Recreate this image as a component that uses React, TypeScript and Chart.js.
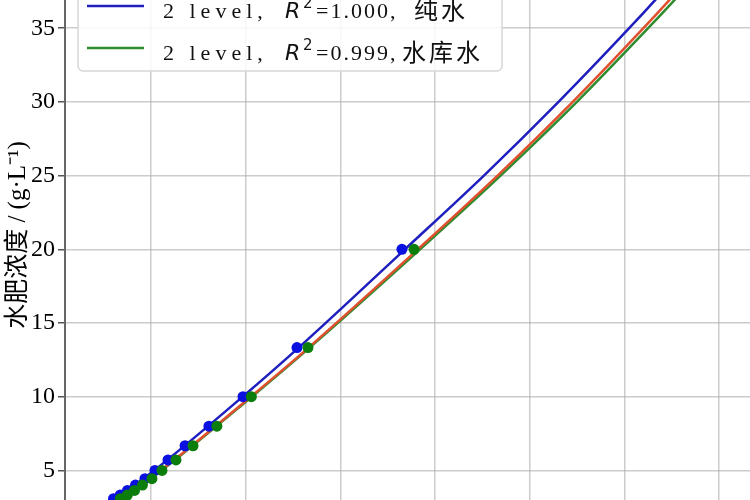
import { useEffect, useRef } from "react";
import { Chart, registerables } from "chart.js";

Chart.register(...registerables);

// measured points: concentration (g/L) against the x reading of each water type
const concentration = [20, 13.33, 10, 8, 6.67, 5.71, 5, 4.44, 4, 3.64, 3.33, 3.08];
const pureWaterX = [18.25, 12.71, 9.86, 8.06, 6.8, 5.9, 5.21, 4.68, 4.18, 3.76, 3.38, 3.02];
const reservoirX = [18.89, 13.29, 10.3, 8.48, 7.22, 6.32, 5.58, 5.05, 4.55, 4.13, 3.75, 3.38];

// fitted curves at these concentration levels
const fitLevels = [3, 5, 10, 13.33, 20, 25, 30, 35, 36.91, 39];
const pureFitX = [3.05, 5.17, 9.84, 12.8, 18.41, 22.58, 26.52, 30.25, 31.62, 33.06];
const tapFitX = [3.37, 5.52, 10.27, 13.32, 19.09, 23.3, 27.27, 31.0, 32.37, 33.82];
const reservoirFitX = [3.4, 5.57, 10.33, 13.38, 19.21, 23.46, 27.49, 31.25, 32.64, 34.12];

const yTicks = [5, 10, 15, 20, 25, 30, 35];
const xGrid = [5, 10, 15, 20, 25, 30, 35];

const legendRows = [
  { color: "#1f1fbf", r2: "=1.000,", water: "纯水", waterX: 414 },
  { color: "#2e8b2e", r2: "=0.999,", water: "水库水", waterX: 402 },
];

const BLUE_LINE = "#1f1fbf";
const RED_LINE = "#e0502e";
const GREEN_LINE = "#2e8b2e";
const SERIF = "'Liberation Serif', 'Times New Roman', serif";
const CJK = "'Noto Sans CJK SC', sans-serif";
const GRID = "rgba(170,170,170,0.6)";

const zip = (xs: number[], ys: number[]) => xs.map((x, i) => ({ x, y: ys[i] }));

const fitLegend = {
  id: "fitLegend",
  afterDraw(chart: any) {
    const ctx: CanvasRenderingContext2D = chart.ctx;
    ctx.save();
    // box: its top runs off the picture
    ctx.beginPath();
    ctx.roundRect(78, -40, 424, 141, 5);
    ctx.fillStyle = "rgba(255,255,255,0.85)";
    ctx.fill();
    ctx.strokeStyle = "#d6d6d6";
    ctx.lineWidth = 1.5;
    ctx.stroke();

    legendRows.forEach((row, i) => {
      const lineY = 36 + i * 42;
      const base = lineY + 11.5;
      ctx.strokeStyle = row.color;
      ctx.lineWidth = 2.5;
      ctx.beginPath();
      ctx.moveTo(87, lineY);
      ctx.lineTo(144, lineY);
      ctx.stroke();

      ctx.fillStyle = "#111";
      ctx.textBaseline = "alphabetic";
      ctx.textAlign = "left";
      (ctx as any).letterSpacing = "5px";
      ctx.font = `22px ${SERIF}`;
      ctx.fillText("2 level,", 163, base);
      (ctx as any).letterSpacing = "0px";
      ctx.font = "italic 22px 'DejaVu Sans'";
      ctx.fillText("R", 285, base);
      ctx.font = "15px 'DejaVu Sans'";
      ctx.fillText("2", 303, base - 10);
      (ctx as any).letterSpacing = "2px";
      ctx.font = `22px ${SERIF}`;
      ctx.fillText(row.r2, 316, base);
      (ctx as any).letterSpacing = "3px";
      ctx.font = `24px ${CJK}`;
      ctx.fillText(row.water, row.waterX, base + 1);
      (ctx as any).letterSpacing = "0px";
    });
    ctx.restore();
  },
};

export default function App() {
  const ref = useRef<HTMLCanvasElement>(null);

  useEffect(() => {
    if (!ref.current) return;
    const chart = new Chart(ref.current, {
      type: "scatter",
      data: {
        datasets: [
          {
            label: "水库水 fit",
            data: zip(reservoirFitX, fitLevels),
            showLine: true,
            borderColor: GREEN_LINE,
            borderWidth: 2.5,
            pointRadius: 0,
            cubicInterpolationMode: "monotone",
            order: 5,
          },
          {
            label: "red fit",
            data: zip(tapFitX, fitLevels),
            showLine: true,
            borderColor: RED_LINE,
            borderWidth: 2.5,
            pointRadius: 0,
            cubicInterpolationMode: "monotone",
            order: 4,
          },
          {
            label: "纯水 fit",
            data: zip(pureFitX, fitLevels),
            showLine: true,
            borderColor: BLUE_LINE,
            borderWidth: 2.5,
            pointRadius: 0,
            cubicInterpolationMode: "monotone",
            order: 3,
          },
          {
            label: "纯水",
            data: zip(pureWaterX, concentration),
            backgroundColor: "#0a10e0",
            borderWidth: 0,
            pointRadius: 5.5,
            order: 2,
          },
          {
            label: "水库水",
            data: zip(reservoirX, concentration),
            backgroundColor: "#0b7d0b",
            borderWidth: 0,
            pointRadius: 5.5,
            order: 1,
          },
        ],
      },
      options: {
        responsive: true,
        maintainAspectRatio: false,
        animation: false,
        layout: { padding: 0, autoPadding: false },
        plugins: { legend: { display: false }, tooltip: { enabled: false } },
        scales: {
          x: {
            type: "linear",
            min: 0.46,
            max: 36.63,
            ticks: { display: false },
            grid: { color: GRID, lineWidth: 1.5, drawTicks: false },
            border: { display: false },
            afterBuildTicks: (s: any) => {
              s.ticks = xGrid.map((v) => ({ value: v }));
            },
            afterFit: (s: any) => {
              s.height = 0;
              s.paddingLeft = 0;
              s.paddingRight = 0;
            },
          },
          y: {
            type: "linear",
            min: 2.99,
            max: 38.95,
            afterBuildTicks: (s: any) => {
              s.ticks = yTicks.map((v) => ({ value: v }));
            },
            afterFit: (s: any) => {
              s.width = 65;
              s.paddingTop = 0;
              s.paddingBottom = 0;
            },
            ticks: {
              color: "#000",
              padding: 3,
              font: { family: SERIF, size: 24 },
            },
            grid: {
              color: GRID,
              lineWidth: 1.5,
              tickLength: 7,
              tickColor: "#555",
              tickWidth: 1.5,
            },
            border: { color: "#666", width: 2 },
            title: {
              display: true,
              text: "水肥浓度 / (g·L⁻¹)",
              color: "#000",
              font: { family: `${SERIF}, ${CJK}`, size: 25 },
              padding: { top: 3, bottom: 0 },
            },
          },
        },
      },
      plugins: [fitLegend],
    });
    return () => chart.destroy();
  }, []);

  return (
    <div style={{ width: 750, height: 500, overflow: "hidden", background: "#fff" }}>
      <style>{"body{margin:0}"}</style>
      <div style={{ position: "relative", width: 750, height: 530, marginTop: -30 }}>
        <canvas ref={ref} />
      </div>
    </div>
  );
}
